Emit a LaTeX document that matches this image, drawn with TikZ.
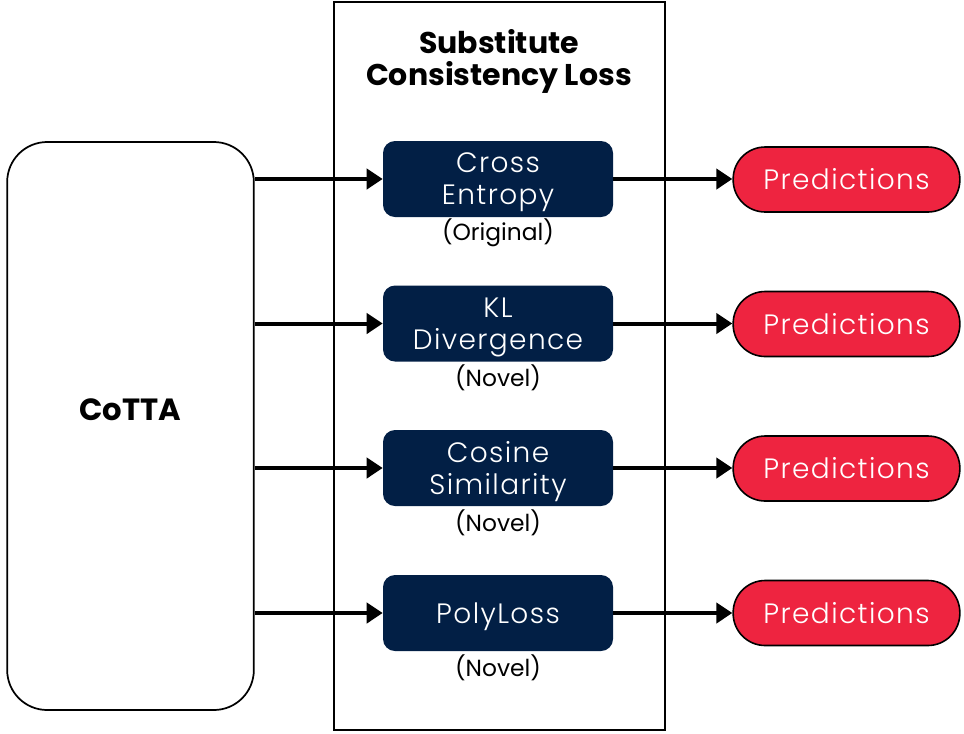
\documentclass[tikz,border=0pt]{standalone}
\usepackage{fontspec}
\setmainfont{Poppins}
\newfontfamily\poplight{Poppins}[UprightFont=* Light, LetterSpace=5]
\usetikzlibrary{arrows.meta}

\definecolor{lossnavy}{HTML}{021F45}
\definecolor{predred}{HTML}{EE2440}

\tikzset{
  lossbox/.style={fill=lossnavy, rounded corners=9pt, minimum width=172.5pt,
    minimum height=57pt, text=white, align=center, text depth=0pt,
    font=\poplight\fontsize{21}{24}\selectfont},
  predpill/.style={draw, line width=1.2pt, fill=predred, rounded corners=24pt,
    minimum width=170pt, minimum height=48.75pt, text=white,
    font=\poplight\fontsize{21}{24}\selectfont},
  note/.style={font=\fontsize{17.5}{20}\selectfont},
  feed/.style={line width=3pt, -{Triangle[length=12pt, width=15pt]}}
}

\begin{document}
\begin{tikzpicture}[x=0.75pt, y=-0.75pt]
      \useasboundingbox (0,0) rectangle (964,733);

      % left block
      \node[draw, line width=1.3pt, rounded corners=30pt, minimum width=185pt,
        minimum height=426pt] (cotta) at (130.5,426) {};
      \node[font=\bfseries\fontsize{23}{26}\selectfont] (cottalabel) at (130,410) {CoTTA};

      % middle column
      \node[draw, line width=1.1pt, minimum width=248pt, minimum height=546pt]
        (column) at (499.5,366) {};
      \node[align=center, font=\bfseries\fontsize{22.5}{24}\selectfont]
        (title) at (499,61) {Substitute\\Consistency Loss};

      \node[lossbox] (cross) at (498,179) {Cross\\Entropy};
      \node[lossbox] (kl) at (498,323.5) {KL\\Divergence};
      \node[lossbox] (cosine) at (498,468) {Cosine\\Similarity};
      \node[lossbox] (poly) at (498,613) {PolyLoss};

      \node[note] (orig) at (498,233) {(Original)};
      \node[note] (novkl) at (498,378) {(Novel)};
      \node[note] (novcos) at (498,523) {(Novel)};
      \node[note] (novpoly) at (498,668) {(Novel)};

      % outputs
      \node[predpill] (pred1) at (846.5,179.5) {Predictions};
      \node[predpill] (pred2) at (846.5,324) {Predictions};
      \node[predpill] (pred3) at (846.5,468.5) {Predictions};
      \node[predpill] (pred4) at (846.5,613) {Predictions};

      \draw[feed] (cotta.east |- cross) -- (cross.west);
      \draw[feed] (cotta.east |- kl) -- (kl.west);
      \draw[feed] (cotta.east |- cosine) -- (cosine.west);
      \draw[feed] (cotta.east |- poly) -- (poly.west);

      \draw[feed] (cross.east) -- (pred1.west |- cross);
      \draw[feed] (kl.east) -- (pred2.west |- kl);
      \draw[feed] (cosine.east) -- (pred3.west |- cosine);
      \draw[feed] (poly.east) -- (pred4.west |- poly);
\end{tikzpicture}
\end{document}
